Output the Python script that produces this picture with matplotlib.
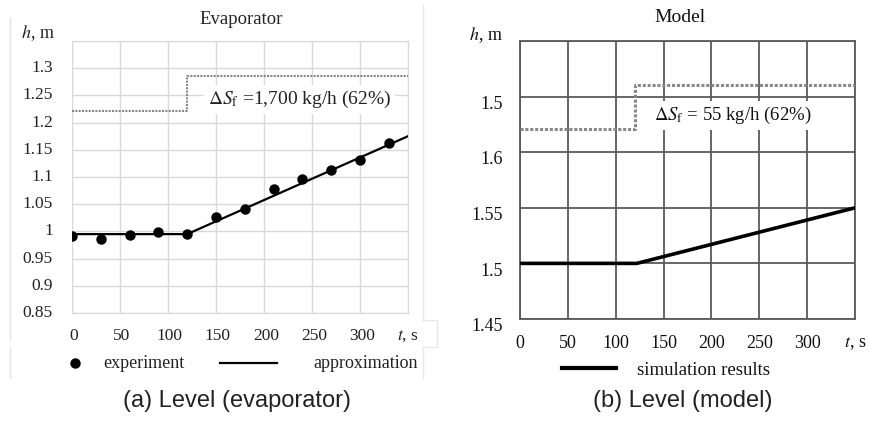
import matplotlib
matplotlib.use("Agg")
import matplotlib.pyplot as plt
from matplotlib.lines import Line2D
import numpy as np

plt.rcParams['font.family'] = ['Liberation Serif', 'DejaVu Serif']
plt.rcParams['mathtext.fontset'] = 'stix'

# ---- Data: (a) evaporator ----
exp_t = [0, 30, 60, 90, 120, 150, 180, 210, 240, 270, 300, 330]
exp_h = [0.992, 0.986, 0.993, 0.998, 0.995, 1.026, 1.042, 1.078, 1.096, 1.112, 1.131, 1.163]
approx_t = [0, 120, 350]
approx_h = [0.995, 0.995, 1.175]
stepA_t = [0, 120, 120, 350]
stepA_h = [1.222, 1.222, 1.286, 1.286]
yticksA = [0.85, 0.9, 0.95, 1.0, 1.05, 1.1, 1.15, 1.2, 1.25, 1.3]
yticklabelsA = ['0.85', '0.9', '0.95', '1', '1.05', '1.1', '1.15', '1.2', '1.25', '1.3']
xticks = [0, 50, 100, 150, 200, 250, 300]

# ---- Data: (b) model ----
sim_t = [0, 122, 350]
sim_h = [1.50, 1.50, 1.55]
stepB_t = [0, 120, 120, 350]
stepB_h = [1.621, 1.621, 1.660, 1.660]
yticksB = [1.45, 1.50, 1.55, 1.60, 1.65]
yticklabelsB = ['1.45', '1.5', '1.55', '1.6', '1.5']

W, H = 869, 423
fig = plt.figure(figsize=(W / 100, H / 100), dpi=100)

def fx(px):
    return px / W

def fy(py):
    return 1 - py / H

# ---------------- Left panel ----------------
axA = fig.add_axes([fx(72), fy(313), fx(408 - 72), (313 - 41) / H])
axA.set_xlim(0, 350)
axA.set_ylim(0.85, 1.35)
axA.set_xticks(np.arange(0, 351, 50))
axA.set_yticks(np.arange(0.85, 1.351, 0.05))
axA.grid(True, color='#d9d9d9', lw=1.0)
for s in axA.spines.values():
    s.set_color('#d9d9d9')
axA.tick_params(length=0, labelleft=False, labelbottom=False)
for v, lab in zip(yticksA, yticklabelsA):
    axA.text(-20, v, lab, ha='right', va='center', fontsize=12.5, color='#222222')
for v in xticks:
    axA.text(v + 2, 0.85 - 0.042, str(v), ha='center', va='center', fontsize=12.5, color='#222222')
axA.text(350, 0.85 - 0.042, '$t$, s', ha='center', va='center', fontsize=12.5, color='#222222')
axA.text(-36, 1.365, '$h$, m', ha='center', va='center', fontsize=13, color='#222222', clip_on=False)

axA.plot(stepA_t, stepA_h, linestyle=(0, (1, 0.6)), color='#888888', lw=1.5, zorder=3)
axA.plot(approx_t, approx_h, color='black', lw=1.6, zorder=4)
axA.plot(exp_t, exp_h, 'o', color='black', ms=6.5, zorder=5)
axA.text(237, 1.243, r'$\Delta S_{\rm f}$ =1,700 kg/h (62%)', ha='center', va='center',
         fontsize=14, color='#222222', zorder=6,
         bbox=dict(facecolor='white', edgecolor='none', pad=3))
fig.text(fx(241), fy(20), 'Evaporator', ha='center', va='center', fontsize=13.5, color='#222222')

# legend (a)
fig.add_artist(Line2D([fx(75)], [fy(363)], marker='o', color='black', ms=6.5, linestyle='none'))
fig.text(fx(103), fy(363), 'experiment', ha='left', va='center', fontsize=13, color='#222222')
fig.add_artist(Line2D([fx(220), fx(277)], [fy(363), fy(363)], color='black', lw=1.6))
fig.text(fx(313), fy(363), 'approximation', ha='left', va='center', fontsize=13, color='#222222')

# faint chart-area border lines
fig.add_artist(Line2D([fx(9.5), fx(9.5)], [fy(18), fy(340)], color='#e4e4e4', lw=1))
fig.add_artist(Line2D([fx(9.5), fx(9.5)], [fy(347), fy(378)], color='#e4e4e4', lw=1))
fig.add_artist(Line2D([fx(423), fx(423)], [fy(5), fy(320)], color='#e8e8e8', lw=1))
fig.add_artist(Line2D([fx(423), fx(437)], [fy(320), fy(320)], color='#e8e8e8', lw=1))
fig.add_artist(Line2D([fx(437), fx(437)], [fy(320), fy(347)], color='#e8e8e8', lw=1))
fig.add_artist(Line2D([fx(423), fx(437)], [fy(347), fy(347)], color='#e8e8e8', lw=1))
fig.add_artist(Line2D([fx(423), fx(423)], [fy(347), fy(378)], color='#e8e8e8', lw=1))

# ---------------- Right panel ----------------
axB = fig.add_axes([fx(520), fy(319), fx(855 - 520), (319 - 41) / H])
axB.set_xlim(0, 350)
axB.set_ylim(1.45, 1.70)
axB.set_xticks(np.arange(0, 351, 50))
axB.set_yticks(np.arange(1.45, 1.701, 0.05))
axB.grid(True, color='#5a5a5a', lw=1.3)
for s in axB.spines.values():
    s.set_color('#5a5a5a')
    s.set_linewidth(1.3)
axB.tick_params(length=0, labelleft=False, labelbottom=False)
for v, lab in zip(yticksB, yticklabelsB):
    axB.text(-18, v - 0.007, lab, ha='right', va='center', fontsize=13, color='#111111')
for v in xticks:
    axB.text(v, 1.45 - 0.022, str(v), ha='center', va='center', fontsize=13, color='#111111')
axB.text(350, 1.45 - 0.022, '$t$, s', ha='center', va='center', fontsize=13, color='#111111')
axB.text(-36, 1.705, '$h$, m', ha='center', va='center', fontsize=13, color='#111111', clip_on=False)

axB.plot(stepB_t, stepB_h, linestyle=(0, (1, 0.6)), color='#888888', lw=2.2, zorder=3)
axB.plot(sim_t, sim_h, color='black', lw=2.6, zorder=4, solid_capstyle='butt')
axB.text(222, 1.633, r'$\Delta S_{\rm f}$ = 55 kg/h (62%)', ha='center', va='center',
         fontsize=13.5, color='#111111', zorder=6,
         bbox=dict(facecolor='white', edgecolor='none', pad=2.5))
fig.text(fx(680), fy(17), 'Model', ha='center', va='center', fontsize=14, color='#111111')

# legend (b)
fig.add_artist(Line2D([fx(562), fx(616)], [fy(368), fy(368)], color='black', lw=3))
fig.text(fx(637), fy(370), 'simulation results', ha='left', va='center', fontsize=13.5, color='#111111')

# captions
fig.text(fx(237), fy(401), '(a) Level (evaporator)', ha='center', va='center',
         fontsize=17, family='Liberation Sans', color='#222222')
fig.text(fx(683), fy(401), '(b) Level (model)', ha='center', va='center',
         fontsize=17, family='Liberation Sans', color='#222222')

fig.savefig('out.png', dpi=100)
